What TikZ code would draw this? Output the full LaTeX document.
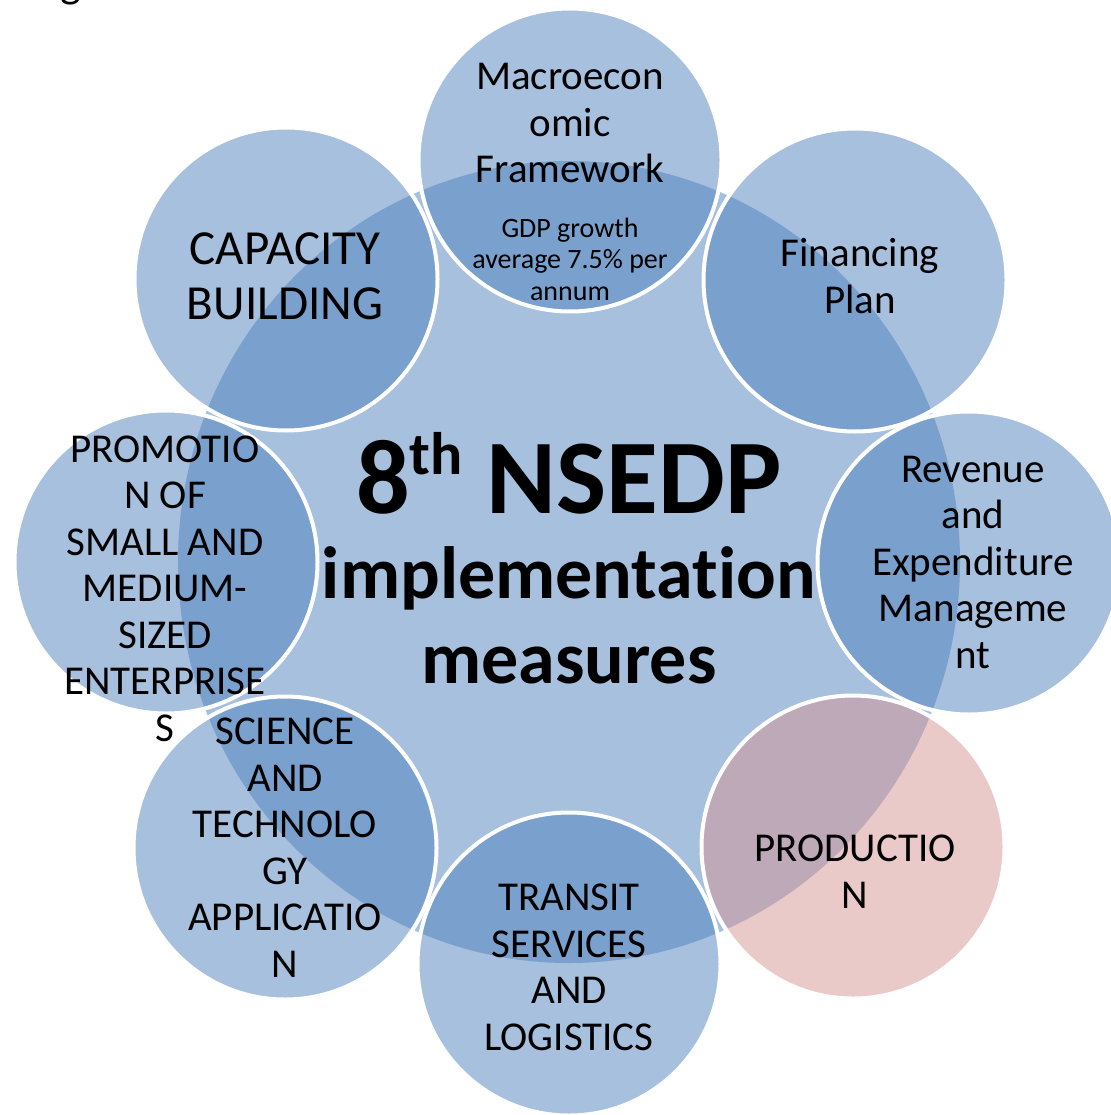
\documentclass[tikz,border=0pt]{standalone}
\usepackage{fontspec}
\setmainfont{Carlito}[Ligatures=NoCommon]
\usetikzlibrary{shapes.geometric}

\definecolor{nsblue}{HTML}{4F81BD}
\definecolor{nslight}{HTML}{A7C0DE}
\definecolor{nspink}{RGB}{213,147,147}

\tikzset{
  hub/.style={ellipse, fill=nslight, inner sep=0pt, minimum width=782pt, minimum height=802pt},
  sat/.style={circle, fill=nsblue, fill opacity=0.5, draw=white, line width=4pt, inner sep=0pt, minimum size=303pt},
  lbl/.style={anchor=base, align=center, inner sep=0pt, font=\fontsize{41}{46.5}\selectfont},
}

\begin{document}
\begin{tikzpicture}[x=1pt,y=-1pt]
\useasboundingbox (0,0) rectangle (1110,1115);

% centre disc
\node[hub] (hub) at (569,562) {};

% ring of eight measures
\node[sat] (macro) at (570,160) {};
\node[sat] (fin)   at (855,280) {};
\node[sat] (rev)   at (969,563) {};
\node[sat, fill=nspink] (prod) at (853,847) {};
\node[sat] (trans) at (569,964) {};
\node[sat] (sci)   at (285,848) {};
\node[sat] (sme)   at (166,562) {};
\node[sat] (cap)   at (286,279) {};

% labels (base = last line)
\node[lbl] (macrotxt) at (570,183) {Macroecon\\omic\\Framework};
\node[lbl, font=\fontsize{28}{31.5}\selectfont] (gdptxt) at (570,300) {GDP growth\\average 7.5\% per\\annum};
\node[lbl] (fintxt) at (860,313) {Financing\\Plan};
\node[lbl] (revtxt) at (973,668) {Revenue\\and\\Expenditure\\Manageme\\nt};
\node[lbl] (prodtxt) at (855,908) {PRODUCTIO\\N};
\node[lbl] (transtxt) at (569,1050) {TRANSIT\\SERVICES\\AND\\LOGISTICS};
\node[lbl] (scitxt) at (285,977) {SCIENCE\\AND\\TECHNOLO\\GY\\APPLICATIO\\N};
\node[lbl] (smetxt) at (165,741) {PROMOTIO\\N OF\\SMALL AND\\MEDIUM-\\SIZED\\ENTERPRISE\\S};
\node[lbl, font=\fontsize{49}{55}\selectfont] (captxt) at (285,319) {CAPACITY\\BUILDING};

% title in the middle
\node[lbl, font=\fontsize{74}{85}\selectfont\bfseries] (title) at (569,683)
  {{\fontsize{106}{106}\selectfont 8\raisebox{0.36em}{\fontsize{60}{60}\selectfont th} NSEDP}\\implementation\\measures};

% caption cut off at the top
\node[lbl, font=\fontsize{44}{44}\selectfont] (caption) at (71,-2) {g};
\end{tikzpicture}
\end{document}
